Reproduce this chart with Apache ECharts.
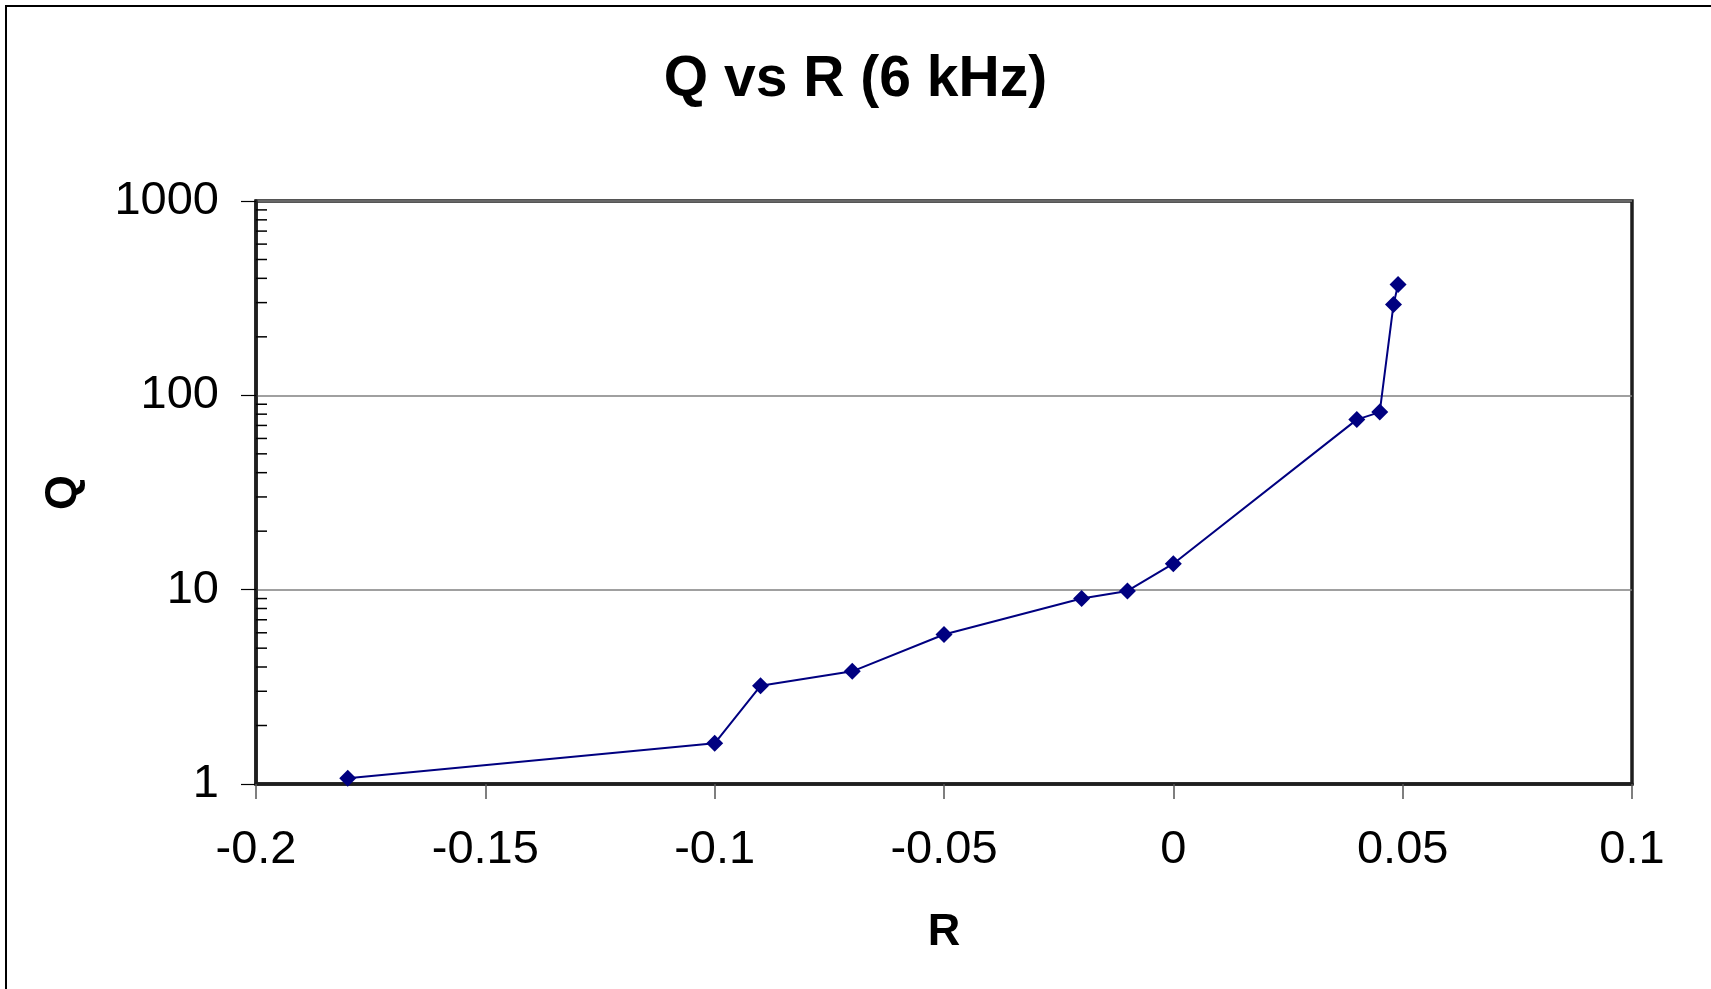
<!DOCTYPE html>
<html>
<head>
<meta charset="utf-8">
<title>Q vs R (6 kHz)</title>
<script src="https://cdn.jsdelivr.net/npm/echarts@6/dist/echarts.min.js"></script>
<style>
  html, body { margin: 0; padding: 0; background: #fff; }
  #chart { width: 1711px; height: 989px; }
</style>
</head>
<body>
<div id="chart"></div>
<script>
// Measured R and Q at 6 kHz
const rValues = [-0.18, -0.10, -0.09, -0.07, -0.05, -0.02, -0.01, 0.00, 0.04, 0.045, 0.048, 0.049];
const qValues = [1.07, 1.62, 3.2, 3.8, 5.88, 9.0, 9.85, 13.6, 75, 82, 293, 372];

// Axis ranges and tick labels
const xMin = -0.2, xMax = 0.1, xStep = 0.05;
const yMin = 1, yMax = 1000;
const yTickLabels = ['1', '10', '100', '1000'];
const xTickLabels = ['-0.2', '-0.15', '-0.1', '-0.05', '0', '0.05', '0.1'];
// Minor log ticks drawn inside the left axis
const yMinorTicks = [2, 3, 4, 5, 6, 7, 8, 9, 20, 30, 40, 50, 60, 70, 80, 90, 200, 300, 400, 500, 600, 700, 800, 900];

const FONT = '"Liberation Sans", Arial, sans-serif';
const chart = echarts.init(document.getElementById('chart'), null, { renderer: 'canvas' });

const points = rValues.map((r, i) => [r, qValues[i]]);

chart.setOption({
  backgroundColor: '#ffffff',
  animation: false,
  title: {
    text: 'Q vs R (6 kHz)',
    left: 'center',
    top: 47,
    textStyle: { fontFamily: FONT, fontSize: 57, fontWeight: 'bold', color: '#000' }
  },
  graphic: [{
    type: 'rect',
    silent: true,
    shape: { x: 6, y: 6, width: 1800, height: 1100 },
    style: { fill: 'none', stroke: '#000', lineWidth: 2 }
  }],
  grid: {
    left: 256, top: 201, width: 1376, height: 583,
    show: true, borderColor: '#1e1e1e', borderWidth: 3.5, backgroundColor: 'transparent'
  },
  xAxis: {
    type: 'value',
    min: xMin, max: xMax, interval: xStep,
    name: 'R',
    nameLocation: 'middle',
    nameGap: 126,
    nameTextStyle: { fontFamily: FONT, fontSize: 45, fontWeight: 'bold', color: '#000' },
    axisLine: { show: true, onZero: false, lineStyle: { color: '#1e1e1e', width: 3.5 } },
    axisTick: { show: true, inside: false, length: 15, lineStyle: { color: '#555', width: 1.5 } },
    axisLabel: {
      fontFamily: FONT, fontSize: 47, color: '#000', margin: 43,
      formatter: v => {
        const k = Math.round((v - xMin) / xStep);
        return xTickLabels[k] !== undefined ? xTickLabels[k] : String(v);
      }
    },
    splitLine: { show: false }
  },
  yAxis: {
    type: 'log',
    logBase: 10,
    min: yMin, max: yMax,
    name: 'Q',
    nameLocation: 'middle',
    nameGap: 170,
    nameRotate: 90,
    nameTextStyle: { fontFamily: FONT, fontSize: 45, fontWeight: 'bold', color: '#000' },
    axisLine: { show: true, onZero: false, lineStyle: { color: '#1e1e1e', width: 3.5 } },
    axisTick: { show: true, inside: false, length: 15, lineStyle: { color: '#000', width: 1.2 } },
    axisLabel: {
      fontFamily: FONT, fontSize: 47, color: '#000', margin: 37,
      formatter: v => {
        const k = Math.round(Math.log10(v));
        return yTickLabels[k] !== undefined ? yTickLabels[k] : String(v);
      }
    },
    splitLine: { show: true, lineStyle: { color: '#808080', width: 1.5 } },
    minorTick: { show: false }
  },
  series: [
    {
      name: 'minor ticks',
      type: 'custom',
      coordinateSystem: 'cartesian2d',
      silent: true,
      clip: false,
      z: 5,
      data: yMinorTicks.map(v => [xMin, v]),
      renderItem: (params, api) => {
        const p = api.coord([api.value(0), api.value(1)]);
        return {
          type: 'line',
          shape: { x1: p[0], y1: p[1], x2: p[0] + 11, y2: p[1] },
          style: { stroke: '#000', lineWidth: 1.5 }
        };
      }
    },
    {
      name: 'Q',
      type: 'line',
      data: points,
      symbol: 'diamond',
      symbolSize: 17,
      lineStyle: { color: '#000080', width: 2 },
      itemStyle: { color: '#000080' },
      z: 10
    }
  ]
});
</script>
</body>
</html>
